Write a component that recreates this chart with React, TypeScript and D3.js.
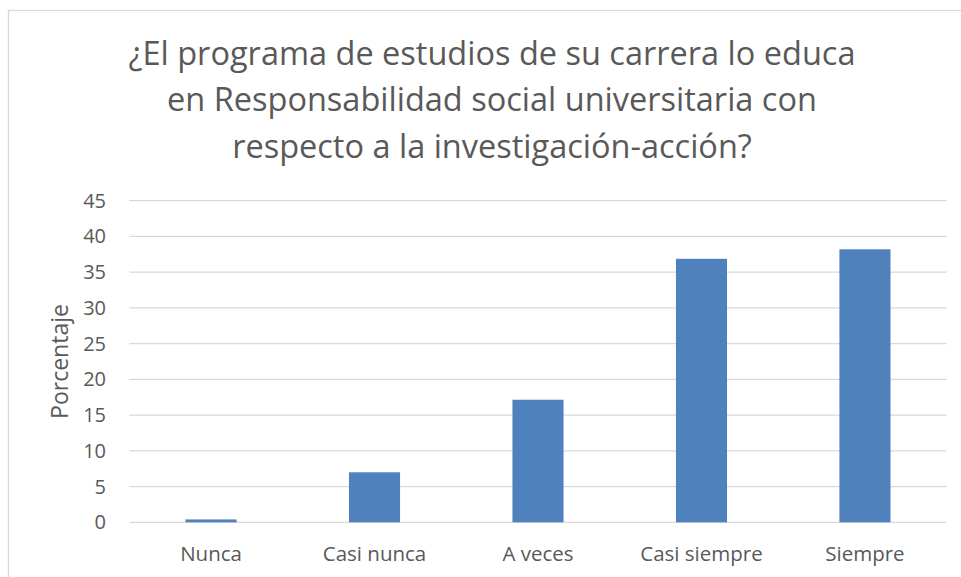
import React from "react";
import * as d3 from "d3";

const categories = ["Nunca", "Casi nunca", "A veces", "Casi siempre", "Siempre"];
const values = [0.4, 7.0, 17.15, 36.87, 38.2];
const yTicks = [0, 5, 10, 15, 20, 25, 30, 35, 40, 45];
const titleLines = [
  "¿El programa de estudios de su carrera lo educa",
  "en Responsabilidad social universitaria con",
  "respecto a la investigación-acción?",
];
const yAxisTitle = "Porcentaje";

const W = 961;
const H = 577;
const FONT = "'Open Sans', 'Noto Sans', sans-serif";

export default function App() {
  const plotLeft = 129.3;
  const plotRight = 946.7;
  const y0 = 522.3;
  const y45 = 200.7;

  const x = d3
    .scaleBand<string>()
    .domain(categories)
    .range([plotLeft, plotRight])
    .paddingInner(0.6875)
    .paddingOuter(0.34375);
  const y = d3.scaleLinear().domain([0, 45]).range([y0, y45]);

  return (
    <svg
      width={W}
      height={H}
      style={{ position: "fixed", left: 0, top: 0, background: "#fff" }}
      fontFamily={FONT}
    >
      <rect x={0} y={0} width={W} height={H} fill="#fff" />
      <rect
        x={8.5}
        y={10.5}
        width={W + 20}
        height={H + 20}
        fill="#fff"
        stroke="#d9d9d9"
        strokeWidth={1.3}
      />
      {titleLines.map((t, i) => (
        <text
          key={i}
          x={492}
          y={65 + i * 46.3}
          textAnchor="middle"
          fontSize={32.5}
          fill="#595959"
        >
          {t}
        </text>
      ))}
      {yTicks.map((t) => (
        <g key={t}>
          <line
            x1={plotLeft}
            x2={plotRight}
            y1={y(t)}
            y2={y(t)}
            stroke="#d9d9d9"
            strokeWidth={1.3}
          />
          <text
            x={106}
            y={y(t)}
            dy="0.35em"
            textAnchor="end"
            fontSize={20}
            fill="#595959"
          >
            {t}
          </text>
        </g>
      ))}
      {categories.map((c, i) => (
        <rect
          key={c}
          x={x(c)}
          y={y(values[i])}
          width={x.bandwidth()}
          height={y0 - y(values[i])}
          fill="#4f81bd"
        />
      ))}
      {categories.map((c) => (
        <text
          key={c}
          x={(x(c) as number) + x.bandwidth() / 2}
          y={561}
          textAnchor="middle"
          fontSize={20.5}
          fill="#595959"
        >
          {c}
        </text>
      ))}
      <text
        transform={`translate(68, 361.5) rotate(-90)`}
        textAnchor="middle"
        fontSize={23}
        fill="#595959"
      >
        {yAxisTitle}
      </text>
    </svg>
  );
}
